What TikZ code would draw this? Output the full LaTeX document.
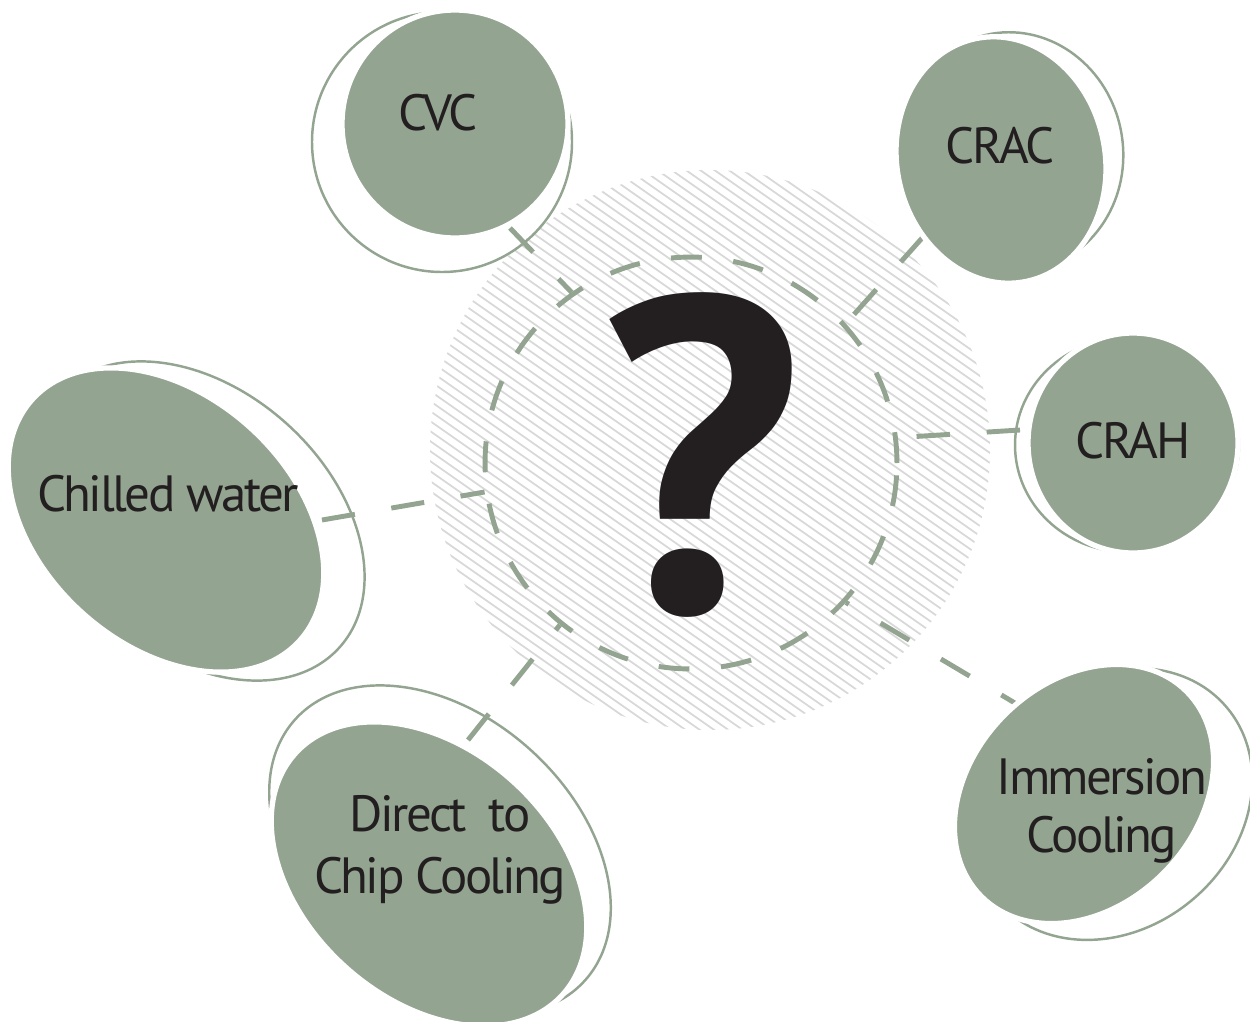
\documentclass[tikz,border=0pt]{standalone}
\usepackage{fontspec}
\setmainfont{PT Sans}[LetterSpace=-5]
\definecolor{sage}{HTML}{93A591}
\definecolor{ink}{HTML}{231F20}
\definecolor{hatchgray}{HTML}{D8D8D8}

\begin{document}
\begin{tikzpicture}[
  x=0.02cm, y=-0.02cm,
  ring/.style={draw=sage, line width=1.4pt},
  blob/.style={fill=sage, draw=white, line width=3pt},
  link/.style={draw=sage, line width=2.8pt, dash pattern=on 19pt off 21pt},
  hatch/.style={draw=hatchgray, line width=1pt},
  blobtext/.style={text=ink, inner sep=0pt, font=\fontsize{29}{35}\selectfont}
]
  \useasboundingbox (0,0) rectangle (1250,1021);

  \begin{scope}
    \clip (710,450) circle [radius=280];
    \foreach \b in {-250,-240,...,720}
      \draw[hatch] (400,\b) -- (1020,\b+434);
  \end{scope}
  \node[circle, draw=sage, line width=2.8pt, dash pattern=on 17.6pt off 18pt,
        minimum size=8.24cm, inner sep=0pt] (hub) at (691,463) {};

  \coordinate (cvc-in)  at (510,228);
  \coordinate (crac-in) at (923,237);
  \coordinate (crah-in) at (1020,430);
  \coordinate (chw-in)  at (322,520);
  \coordinate (dtc-in)  at (468,740);
  \coordinate (imm-in)  at (1030,712);

  \draw[link] (cvc-in)  -- (hub.125);
  \draw[link] (crac-in) -- (hub.42);
  \draw[link] (crah-in) -- (hub.7);
  \draw[link] (chw-in)  -- (hub.188);
  \draw[link] (dtc-in)  -- (hub.231);
  \draw[link] (imm-in)  -- (hub.318);

  % outline rings behind the blobs
  \draw[ring] (442,142) circle [radius=130];
  \draw[ring, rotate around={10:(1012,152)}] (1012,152) ellipse [x radius=111, y radius=120];
  \draw[ring] (1127,445) ellipse [x radius=112, y radius=107];
  \draw[ring, rotate around={-42:(199,521)}] (199,521) ellipse [x radius=189, y radius=131];
  \draw[ring, rotate around={-42:(440,850)}] (440,850) ellipse [x radius=195, y radius=135];
  \draw[ring, rotate around={40:(1112,804)}] (1112,804) ellipse [x radius=150, y radius=125];

  % filled blobs
  \draw[blob] (455,124) ellipse [x radius=113, y radius=114];
  \draw[blob, rotate around={12:(1001,160)}] (1001,160) ellipse [x radius=104, y radius=124];
  \draw[blob] (1133,443) ellipse [x radius=105, y radius=110];
  \draw[blob, rotate around={-42:(166,520)}] (166,520) ellipse [x radius=180, y radius=125];
  \draw[blob, rotate around={-42:(429,874)}] (429,874) ellipse [x radius=180, y radius=125];
  \draw[blob, rotate around={45:(1084,794)}] (1084,794) ellipse [x radius=145, y radius=112];

  \node[blobtext, anchor=base] (cvc)  at (438,130)  {CVC};
  \node[blobtext, anchor=base] (crac) at (1000,163) {CRAC};
  \node[blobtext, anchor=base] (crah) at (1133,458) {CRAH};
  \node[blobtext, anchor=base] (chw)  at (168,511)  {Chilled water};
  \node[blobtext, align=center] (dtc) at (440,850)  {Direct\ \ to\\Chip Cooling};
  \node[blobtext, align=center, font=\fontsize{29}{33}\selectfont] (imm) at (1102,811) {Immersion\\Cooling};

  \node[text=ink, inner sep=0pt, font=\fontsize{255}{255}\selectfont\bfseries] (qmark) at (701,455) {?};
\end{tikzpicture}
\end{document}
